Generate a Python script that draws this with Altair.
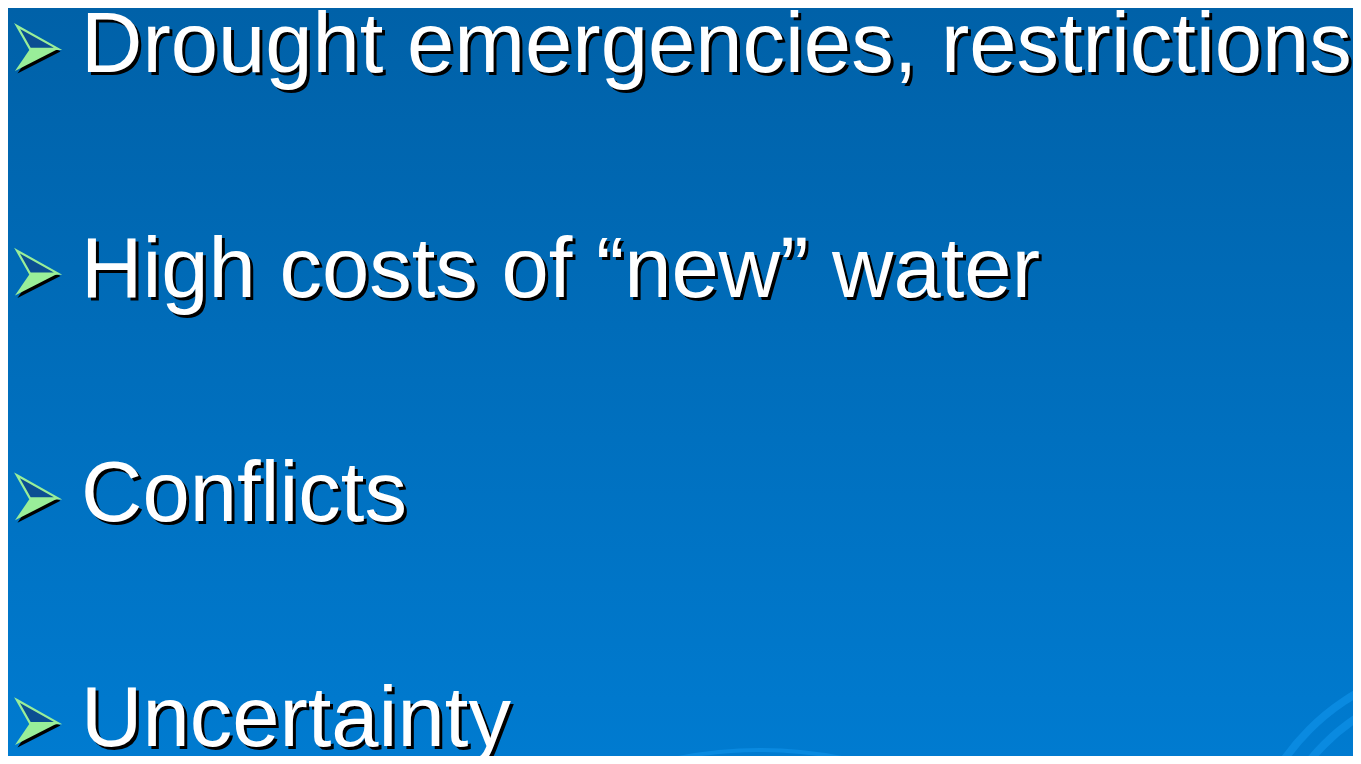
import altair as alt
import pandas as pd

# ---- content -------------------------------------------------------------
bullets = [
    "Drought emergencies, restrictions",
    "High costs of \u201cnew\u201d water",
    "Conflicts",
    "Uncertainty",
]
rows = list(range(len(bullets)))

df = pd.DataFrame({"row": rows, "text": bullets})

W, H = 1345, 748
BG_TOP, BG_BOTTOM = "#0061A8", "#007BD0"
ARC_COLOR = "#0A8AE0"
FONT = "Liberation Sans"

yscale = alt.Scale(domain=[-0.2844, 3.0444], reverse=True)
Y = alt.Y("row:Q", scale=yscale, axis=None)

# ---- background ----------------------------------------------------------
bg = alt.Chart(alt.Data(values=[{}])).mark_rect(
    color=alt.Gradient(
        gradient="linear",
        stops=[alt.GradientStop(color=BG_TOP, offset=0),
               alt.GradientStop(color=BG_BOTTOM, offset=1)],
        x1=0, x2=0, y1=0, y2=1,
    )
).encode(x=alt.value(0), x2=alt.value(W), y=alt.value(0), y2=alt.value(H))

# decorative rings (bottom right) and flat arc (bottom centre)
def ring(cx, cy, r1, r2, t1, t2):
    return alt.Chart(alt.Data(values=[{}])).mark_arc(
        radius=r1, radius2=r2, theta=t1, theta2=t2, color=ARC_COLOR, clip=True
    ).encode(x=alt.value(cx), y=alt.value(cy))

rings = [
    ring(1462, 882, 223, 231, 0, 6.2832),
    ring(1462, 882, 202, 210, 0, 6.2832),
    ring(1462, 882, 163, 172, 0, 6.2832),
    ring(752, 1162, 418, 422, 6.06, 6.70),
]

# ---- text ----------------------------------------------------------------
base = alt.Chart(df)
text_shadow = base.mark_text(
    font=FONT, fontSize=85, align="left", baseline="alphabetic",
    color="black", dx=3, dy=3,
).encode(x=alt.value(73), y=Y, text="text:N")
text = base.mark_text(
    font=FONT, fontSize=85, align="left", baseline="alphabetic", color="white",
).encode(x=alt.value(73), y=Y, text="text:N")

# ---- bullets (arrowheads) -----------------------------------------------
shadow_path = "M -0.757 -1.934 L 1.066 -0.912 L -0.846 0.066 L -0.179 -0.912 Z"
upper_path = "M -0.867 -2.044 L 0.956 -1.022 L -0.289 -1.022 Z"
lower_path = "M -0.289 -1.022 L 0.956 -1.022 L -0.956 -0.044 Z"

b_shadow = base.mark_point(
    shape=shadow_path, size=2025, filled=True, color="black", opacity=1
).encode(x=alt.value(28.5), y=Y)
b_upper = base.mark_point(
    shape=upper_path, size=2025, filled=True, fill="#0B4E92",
    stroke="#99EE99", strokeWidth=2.2, opacity=1
).encode(x=alt.value(28.5), y=Y)
b_upper_in = base.mark_point(
    shape=upper_path, size=1500, filled=False, stroke="black",
    strokeWidth=1, opacity=1
).encode(x=alt.value(28.5), y=alt.Y("row:Q", scale=yscale, axis=None))
b_lower = base.mark_point(
    shape=lower_path, size=2025, filled=True, color="#99EE99", opacity=1
).encode(x=alt.value(28.5), y=Y)

chart = alt.layer(
    bg, *rings, text_shadow, text, b_shadow, b_upper, b_lower
).properties(
    width=W, height=H, padding=0,
    autosize=alt.AutoSizeParams(type="none"),
    background=BG_BOTTOM,
).configure_view(stroke=None)

chart.save("out.html", embed_options={"renderer": "svg", "actions": False})
